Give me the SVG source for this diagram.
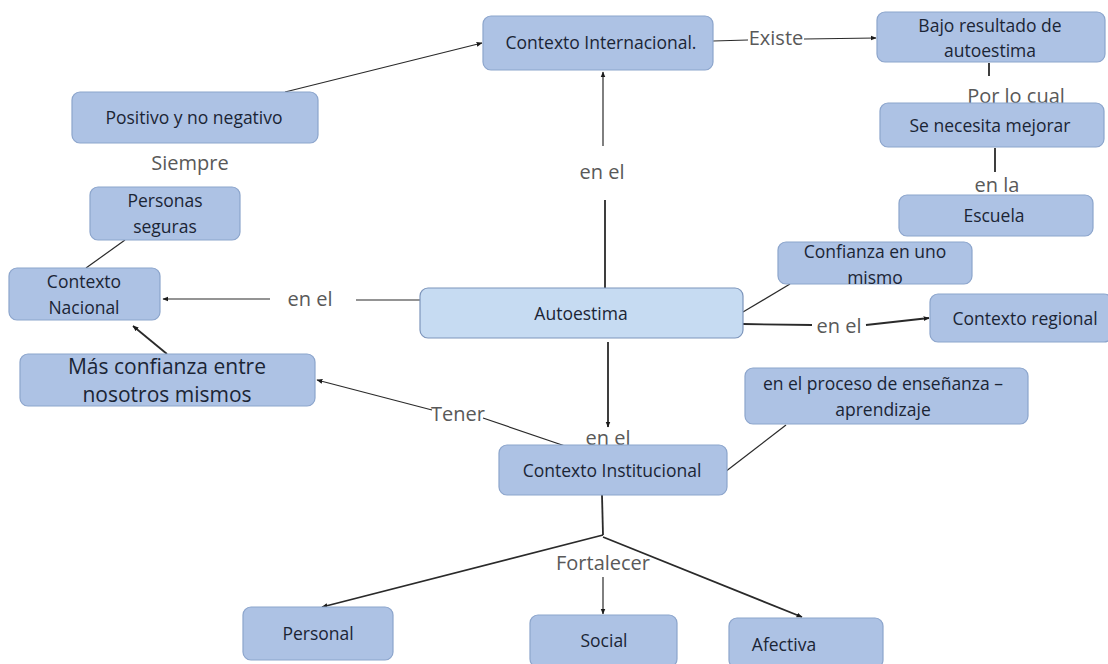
<svg xmlns="http://www.w3.org/2000/svg" width="1108" height="664" viewBox="0 0 1108 664">
<style>
.n{fill:#adc2e4;stroke:#8ca5cc;stroke-width:1.2}
.a{fill:#c6dbf2;stroke:#7d95bb;stroke-width:1.2}
.t{font-family:"Open Sans","Liberation Sans",sans-serif;font-size:17.5px;fill:#1b2535;text-anchor:middle}
.b{font-size:21px}
.l{font-family:"Open Sans","Liberation Sans",sans-serif;font-size:20px;fill:#595959;text-anchor:middle}
.c{stroke:#2a2a2a;stroke-width:1.2;fill:none}
.k{stroke-width:1.8}
</style>
<defs>
<marker id="ar" viewBox="0 0 10 10" refX="9" refY="5" markerWidth="6" markerHeight="6" orient="auto" markerUnits="userSpaceOnUse">
<path d="M0,1 L10,5 L0,9 z" fill="#1a1a1a"/>
</marker>
</defs>
<rect width="1108" height="664" fill="#ffffff"/>
<g id="connectors">
<line class="c" x1="713" y1="41" x2="748" y2="40"/>
<line class="c" x1="804" y1="39" x2="876" y2="38" marker-end="url(#ar)"/>
<line class="c k" x1="989" y1="63" x2="989" y2="76"/>
<line class="c k" x1="995" y1="148" x2="995" y2="172"/>
<line class="c" x1="285" y1="92" x2="482" y2="43" marker-end="url(#ar)"/>
<line class="c" x1="125" y1="240" x2="86" y2="268"/>
<line class="c" x1="270" y1="299" x2="163" y2="299" marker-end="url(#ar)"/>
<line class="c" x1="356" y1="300" x2="420" y2="300"/>
<line class="c k" x1="605" y1="288" x2="605" y2="200"/>
<line class="c" x1="603" y1="146" x2="603" y2="72" marker-end="url(#ar)"/>
<line class="c" x1="743" y1="312" x2="790" y2="284"/>
<line class="c k" x1="743" y1="324" x2="812" y2="325"/>
<line class="c k" x1="866" y1="325" x2="929" y2="318" marker-end="url(#ar)"/>
<line class="c k" x1="608" y1="342" x2="608" y2="427" marker-end="url(#ar)"/>
<line class="c" x1="725" y1="472" x2="786" y2="425"/>
<line class="c" x1="568" y1="447" x2="483" y2="418"/>
<line class="c" x1="432" y1="410" x2="317" y2="380" marker-end="url(#ar)"/>
<line class="c k" x1="167" y1="354" x2="133" y2="326" marker-end="url(#ar)"/>
<line class="c k" x1="602" y1="495" x2="603" y2="535"/>
<line class="c k" x1="603" y1="535" x2="322" y2="607" marker-end="url(#ar)"/>
<line class="c k" x1="603" y1="537" x2="802" y2="617" marker-end="url(#ar)"/>
<line class="c" x1="603" y1="577" x2="603" y2="614" marker-end="url(#ar)"/>
</g>
<g id="labels">
<text class="l" x="776" y="45">Existe</text>
<text class="l" x="1016" y="103">Por lo cual</text>
<text class="l" x="997" y="192">en la</text>
<text class="l" x="190" y="170">Siempre</text>
<text class="l" x="310" y="306">en el</text>
<text class="l" x="602" y="179">en el</text>
<text class="l" x="839" y="333">en el</text>
<text class="l" x="608" y="445">en el</text>
<text class="l" x="458" y="421">Tener</text>
<text class="l" x="603" y="570">Fortalecer</text>
</g>
<g id="n-internacional"><rect class="n" x="483" y="16" width="230" height="54" rx="8"/><text class="t" x="601" y="49">Contexto Internacional.</text></g>
<g id="n-bajo"><rect class="n" x="877" y="12" width="228" height="50" rx="8"/><text class="t" x="990" y="32">Bajo resultado de</text><text class="t" x="990" y="57">autoestima</text></g>
<g id="n-mejorar"><rect class="n" x="880" y="103" width="224" height="44" rx="8"/><text class="t" x="990" y="132">Se necesita mejorar</text></g>
<g id="n-escuela"><rect class="n" x="899" y="195" width="194" height="41" rx="8"/><text class="t" x="994" y="222">Escuela</text></g>
<g id="n-positivo"><rect class="n" x="72" y="92" width="246" height="51" rx="8"/><text class="t" x="194" y="124">Positivo y no negativo</text></g>
<g id="n-personas"><rect class="n" x="90" y="187" width="150" height="53" rx="8"/><text class="t" x="165" y="207">Personas</text><text class="t" x="165" y="233">seguras</text></g>
<g id="n-nacional"><rect class="n" x="9" y="268" width="151" height="52" rx="8"/><text class="t" x="84" y="288">Contexto</text><text class="t" x="84" y="314">Nacional</text></g>
<g id="n-autoestima"><rect class="a" x="420" y="288" width="323" height="50" rx="8"/><text class="t" x="581" y="320">Autoestima</text></g>
<g id="n-confianza"><rect class="n" x="778" y="242" width="194" height="42" rx="8"/><text class="t" x="875" y="258">Confianza en uno</text><text class="t" x="875" y="284">mismo</text></g>
<g id="n-regional"><rect class="n" x="930" y="294" width="182" height="48" rx="8"/><text class="t" x="1025" y="325">Contexto regional</text></g>
<g id="n-proceso"><rect class="n" x="745" y="368" width="283" height="56" rx="8"/><text class="t" x="883" y="390">en el proceso de enseñanza –</text><text class="t" x="883" y="416">aprendizaje</text></g>
<g id="n-mas"><rect class="n" x="20" y="354" width="295" height="52" rx="8"/><text class="t b" x="167" y="374">Más confianza entre</text><text class="t b" x="167" y="402">nosotros mismos</text></g>
<g id="n-institucional"><rect class="n" x="499" y="445" width="228" height="50" rx="8"/><text class="t" x="612" y="477">Contexto Institucional</text></g>
<g id="n-personal"><rect class="n" x="243" y="607" width="150" height="53" rx="8"/><text class="t" x="318" y="640">Personal</text></g>
<g id="n-social"><rect class="n" x="530" y="615" width="147" height="52" rx="8"/><text class="t" x="604" y="647">Social</text></g>
<g id="n-afectiva"><rect class="n" x="729" y="618" width="154" height="50" rx="8"/><text class="t" x="784" y="651">Afectiva</text></g>
</svg>
